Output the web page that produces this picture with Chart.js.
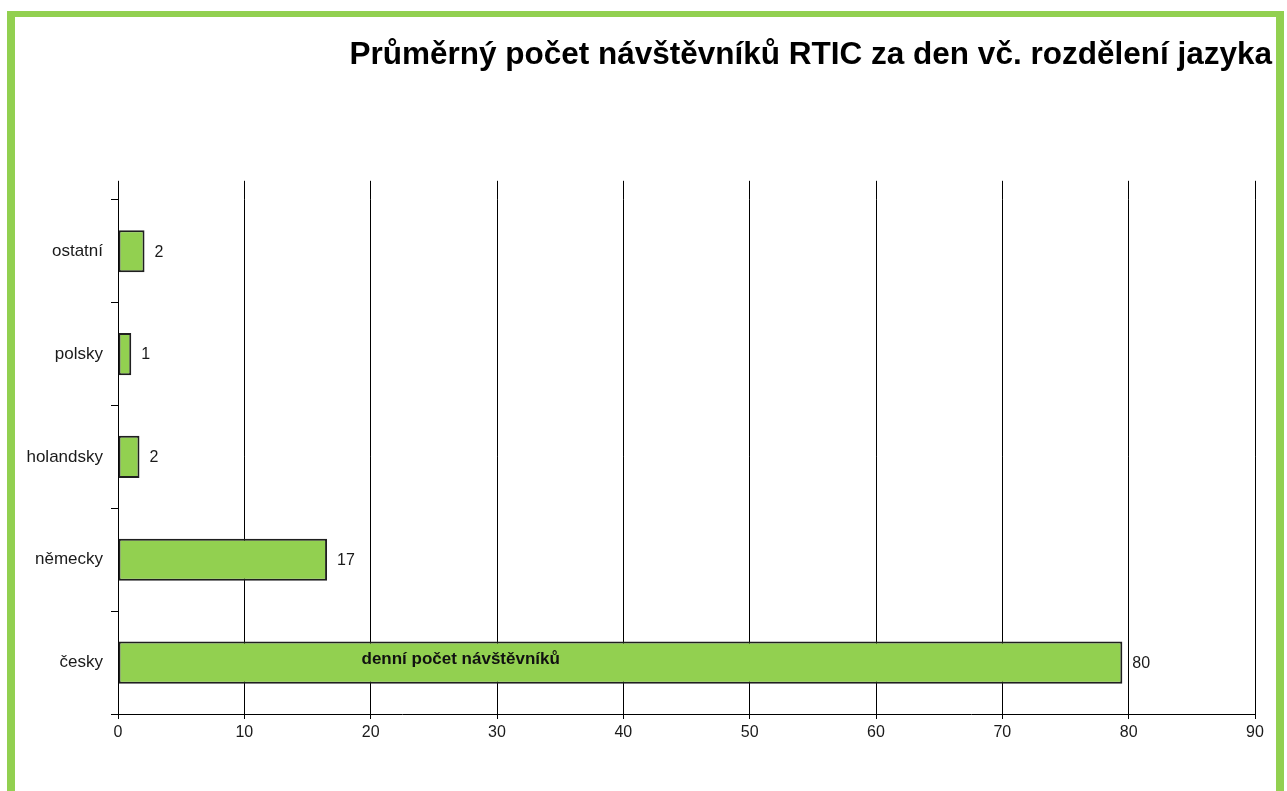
<!DOCTYPE html>
<html>
<head>
<meta charset="utf-8">
<script src="https://cdn.jsdelivr.net/npm/chart.js@4/dist/chart.umd.min.js"></script>
<style>
  html, body { margin: 0; padding: 0; background: #ffffff; }
  #frame {
    position: absolute; left: 7px; top: 11px; width: 1261px; height: 800px;
    border-left: 8px solid #92D050; border-right: 8px solid #92D050; border-top: 6px solid #92D050;
  }
  #c { position: absolute; left: 0; top: 0; z-index: 2; }
</style>
</head>
<body>
<div id="frame"></div>
<canvas id="c" width="1287" height="791"></canvas>
<script>
const titleText = 'Průměrný počet návštěvníků RTIC za den vč. rozdělení jazyka';
const seriesName = 'denní počet návštěvníků';
const categories = ['ostatní', 'polsky', 'holandsky', 'německy', 'česky'];
const visitors = [2.1, 1.05, 1.7, 16.55, 79.5];
const valueLabels = ['2', '1', '2', '17', '80'];
const xTicks = [0, 10, 20, 30, 40, 50, 60, 70, 80, 90];

const FONT = "'Liberation Sans', Arial, sans-serif";
const GRID_EXT = 19;

const extendGrid = {
  id: 'extendGrid',
  beforeDatasetsDraw(chart) {
    const { ctx, chartArea, scales: { x } } = chart;
    ctx.save();
    ctx.strokeStyle = '#000';
    ctx.lineWidth = 1;
    ctx.beginPath();
    x.ticks.forEach(t => {
      const px = Math.round(x.getPixelForValue(t.value) - 0.5) + 0.5;
      ctx.moveTo(px, chartArea.top - GRID_EXT);
      ctx.lineTo(px, chartArea.top);
    });
    ctx.stroke();
    ctx.restore();
  }
};

const barLabels = {
  id: 'barLabels',
  afterDatasetsDraw(chart) {
    const { ctx, chartArea, scales: { y } } = chart;
    const meta = chart.getDatasetMeta(0);
    ctx.save();
    ctx.fillStyle = '#1a1a1a';
    ctx.font = '16px ' + FONT;
    ctx.textAlign = 'left';
    ctx.textBaseline = 'middle';
    meta.data.forEach((bar, i) => {
      ctx.fillText(valueLabels[i], bar.x + 10, bar.y + 1);
    });
    // series name, drawn inside the chart area as in the original
    ctx.font = 'bold 17px ' + FONT;
    ctx.fillStyle = '#111';
    ctx.textBaseline = 'alphabetic';
    const idx = categories.length - 1;
    ctx.fillText(chart.data.datasets[0].label, chartArea.left + 243.5, y.getPixelForValue(idx) + 1);
    ctx.restore();
  }
};

new Chart(document.getElementById('c'), {
  type: 'bar',
  data: {
    labels: categories,
    datasets: [{
      label: seriesName,
      data: visitors,
      backgroundColor: '#92D050',
      borderColor: '#1f1f1f',
      borderWidth: 2,
      borderSkipped: false,
      barPercentage: 0.41,
      categoryPercentage: 1.0
    }]
  },
  options: {
    indexAxis: 'y',
    responsive: false,
    animation: false,
    devicePixelRatio: 1,
    layout: { padding: { left: 0, right: 15, top: 0, bottom: 0 } },
    plugins: {
      legend: { display: false },
      tooltip: { enabled: false },
      title: {
        display: true,
        text: titleText,
        align: 'end',
        color: '#000',
        font: { family: FONT, size: 31.5, weight: 'bold', lineHeight: 1.2 },
        padding: { top: 36, bottom: 126 }
      }
    },
    scales: {
      x: {
        type: 'linear',
        min: 0,
        max: 90,
        afterBuildTicks(s) { s.ticks = xTicks.map(v => ({ value: v })); },
        ticks: { color: '#1a1a1a', font: { family: FONT, size: 16 }, padding: 4 },
        grid: { color: '#000', lineWidth: 1, tickLength: 5, drawTicks: true },
        border: { color: '#000', width: 1 },
        afterFit(s) { s.height = 77; }
      },
      y: {
        type: 'category',
        ticks: { color: '#1a1a1a', font: { family: FONT, size: 17 }, padding: 8 },
        grid: { drawOnChartArea: false, color: '#000', tickLength: 7, offset: true },
        border: { color: '#000', width: 1 },
        afterFit(s) { s.width = 118; }
      },
      r: {
        type: 'linear',
        position: 'right',
        display: true,
        grid: { display: false },
        ticks: { display: false },
        border: { display: false },
        afterFit(s) { s.width = 17; }
      }
    }
  },
  plugins: [extendGrid, barLabels]
});
</script>
</body>
</html>
